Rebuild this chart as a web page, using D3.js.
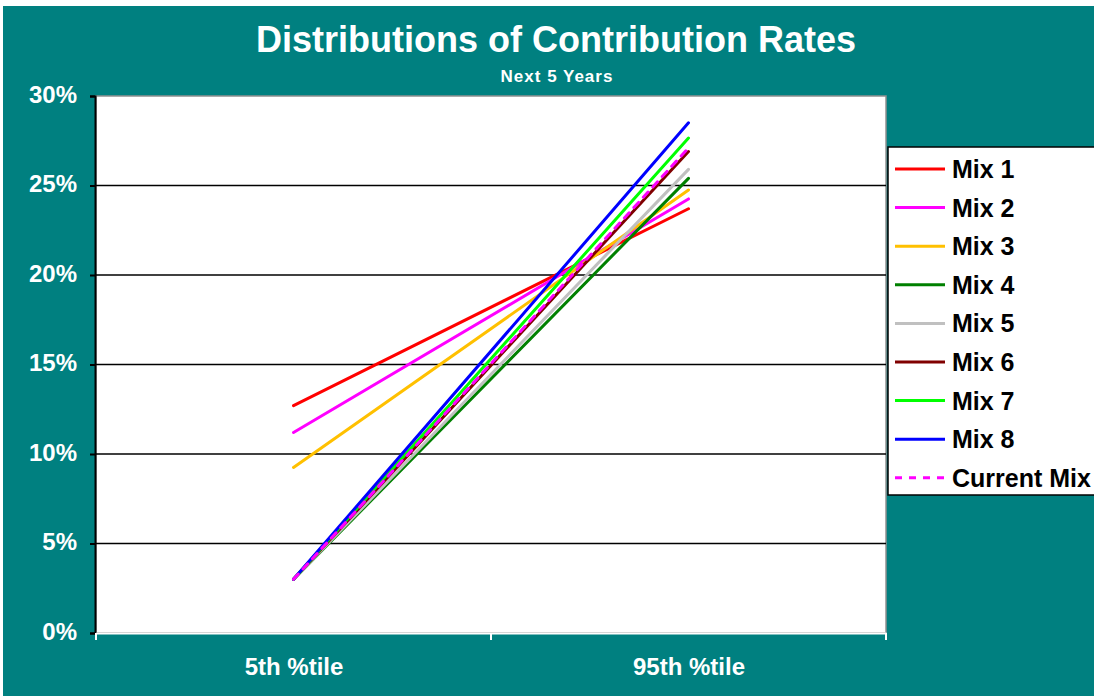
<!DOCTYPE html>
<html>
<head>
<meta charset="utf-8">
<script src="https://cdn.jsdelivr.net/npm/d3@7"></script>
<style>
  html, body { margin: 0; padding: 0; background: #ffffff; overflow: hidden; }
  svg { display: block; }
  text { font-family: "Liberation Sans", Arial, sans-serif; font-weight: bold; }
</style>
</head>
<body>
<svg id="chart" width="1094" height="697"></svg>
<script>
// Percentile categories on the x axis
const categories = ["5th %tile", "95th %tile"];

// Series names, colours and values (contribution rate, %)
const seriesNames = ["Mix 1", "Mix 2", "Mix 3", "Mix 4", "Mix 5", "Mix 6", "Mix 7", "Mix 8", "Current Mix"];
const seriesColors = ["#ff0000", "#ff00ff", "#ffc000", "#008000", "#c0c0c0", "#800000", "#00ff00", "#0000ff", "#ff00ff"];
const mix1 = [12.7, 23.7];
const mix2 = [11.2, 24.25];
const mix3 = [9.25, 24.75];
const mix4 = [3.0, 25.4];
const mix5 = [3.0, 25.9];
const mix6 = [3.0, 26.9];
const mix7 = [3.0, 27.65];
const mix8 = [3.0, 28.5];
const currentMix = [3.0, 27.1];
const seriesValues = [mix1, mix2, mix3, mix4, mix5, mix6, mix7, mix8, currentMix];

// Y axis tick values (%)
const yTicks = [0, 5, 10, 15, 20, 25, 30];

const svg = d3.select("#chart");
const W = 1094, H = 697;
const teal = "#008080";
const FONT = "'Liberation Sans', Arial, sans-serif";

// Chart background
svg.append("rect").attr("x", 3).attr("y", 6).attr("width", W - 3).attr("height", H - 7).attr("fill", teal);

const plot = { left: 96, right: 886, top: 96, bottom: 633 };

const x = d3.scalePoint().domain(categories).range([plot.left, plot.right]).padding(0.5);
const xBand = d3.scaleBand().domain(categories).range([plot.left, plot.right]);
const y = d3.scaleLinear().domain([0, 30]).range([plot.bottom, plot.top]);

// Plot area
svg.append("rect")
  .attr("x", plot.left).attr("y", plot.top)
  .attr("width", plot.right - plot.left).attr("height", plot.bottom - plot.top)
  .attr("fill", "#ffffff").attr("stroke", "#909090").attr("stroke-width", 1.5);

// Horizontal gridlines
svg.append("g").selectAll("line")
  .data(yTicks.filter(d => d > 0 && d < 30))
  .join("line")
  .attr("x1", plot.left).attr("x2", plot.right)
  .attr("y1", d => y(d)).attr("y2", d => y(d))
  .attr("stroke", "#000000").attr("stroke-width", 1.6);

// Y axis
const yAxis = svg.append("g")
  .attr("transform", `translate(${plot.left - 1},0)`)
  .call(d3.axisLeft(y).tickValues(yTicks).tickFormat(d => d + "%").tickSize(5).tickPadding(13));
yAxis.select(".domain").attr("stroke", "#000000").attr("stroke-width", 2);
yAxis.selectAll(".tick line").attr("stroke", "#000000").attr("stroke-width", 2);
yAxis.selectAll(".tick text")
  .attr("fill", "#ffffff").attr("font-size", 24).attr("dy", "0.25em")
  .attr("font-family", FONT).attr("font-weight", "bold");

// X axis
const xAxis = svg.append("g")
  .attr("transform", `translate(0,${plot.bottom})`)
  .call(d3.axisBottom(x).tickSize(0).tickPadding(25));
xAxis.select(".domain").attr("stroke", "#ffffff").attr("stroke-width", 2);
xAxis.selectAll(".tick text")
  .attr("fill", "#ffffff").attr("font-size", 24)
  .attr("font-family", FONT).attr("font-weight", "bold");
// Category boundary ticks
const bounds = categories.map(c => xBand(c)).concat([xBand(categories[categories.length - 1]) + xBand.bandwidth()]);
svg.append("g").selectAll("line")
  .data(bounds).join("line")
  .attr("x1", d => d).attr("x2", d => d)
  .attr("y1", plot.bottom).attr("y2", plot.bottom + 7)
  .attr("stroke", "#ffffff").attr("stroke-width", 2);

// Series lines
const line = d3.line().x((d, i) => x(categories[i])).y(d => y(d));
svg.append("g").selectAll("path")
  .data(seriesValues)
  .join("path")
  .attr("d", d => line(d))
  .attr("fill", "none")
  .attr("stroke", (d, i) => seriesColors[i])
  .attr("stroke-width", 3)
  .attr("stroke-linecap", "round")
  .attr("stroke-dasharray", (d, i) => seriesNames[i] === "Current Mix" ? "7,7" : null);

// Title
svg.append("text").attr("x", 556).attr("y", 52).attr("text-anchor", "middle")
  .attr("fill", "#ffffff").attr("font-size", 36).text("Distributions of Contribution Rates");
svg.append("text").attr("x", 557).attr("y", 82).attr("text-anchor", "middle")
  .attr("fill", "#ffffff").attr("font-size", 17).attr("letter-spacing", 1).text("Next 5 Years");

// Legend
const legend = svg.append("g");
legend.append("rect").attr("x", 888).attr("y", 147).attr("width", 220).attr("height", 348)
  .attr("fill", "#ffffff").attr("stroke", "#000000").attr("stroke-width", 1.5);
const leg = legend.selectAll("g.item").data(seriesNames).join("g")
  .attr("class", "item")
  .attr("transform", (d, i) => `translate(0,${169 + i * 38.6})`);
leg.append("line").attr("x1", 895).attr("x2", 945).attr("y1", 0).attr("y2", 0)
  .attr("stroke", (d, i) => seriesColors[i]).attr("stroke-width", 3)
  .attr("stroke-dasharray", d => d === "Current Mix" ? "7,7" : null);
leg.append("text").attr("x", 952).attr("y", 9).attr("fill", "#000000").attr("font-size", 25).text(d => d);
</script>
</body>
</html>
